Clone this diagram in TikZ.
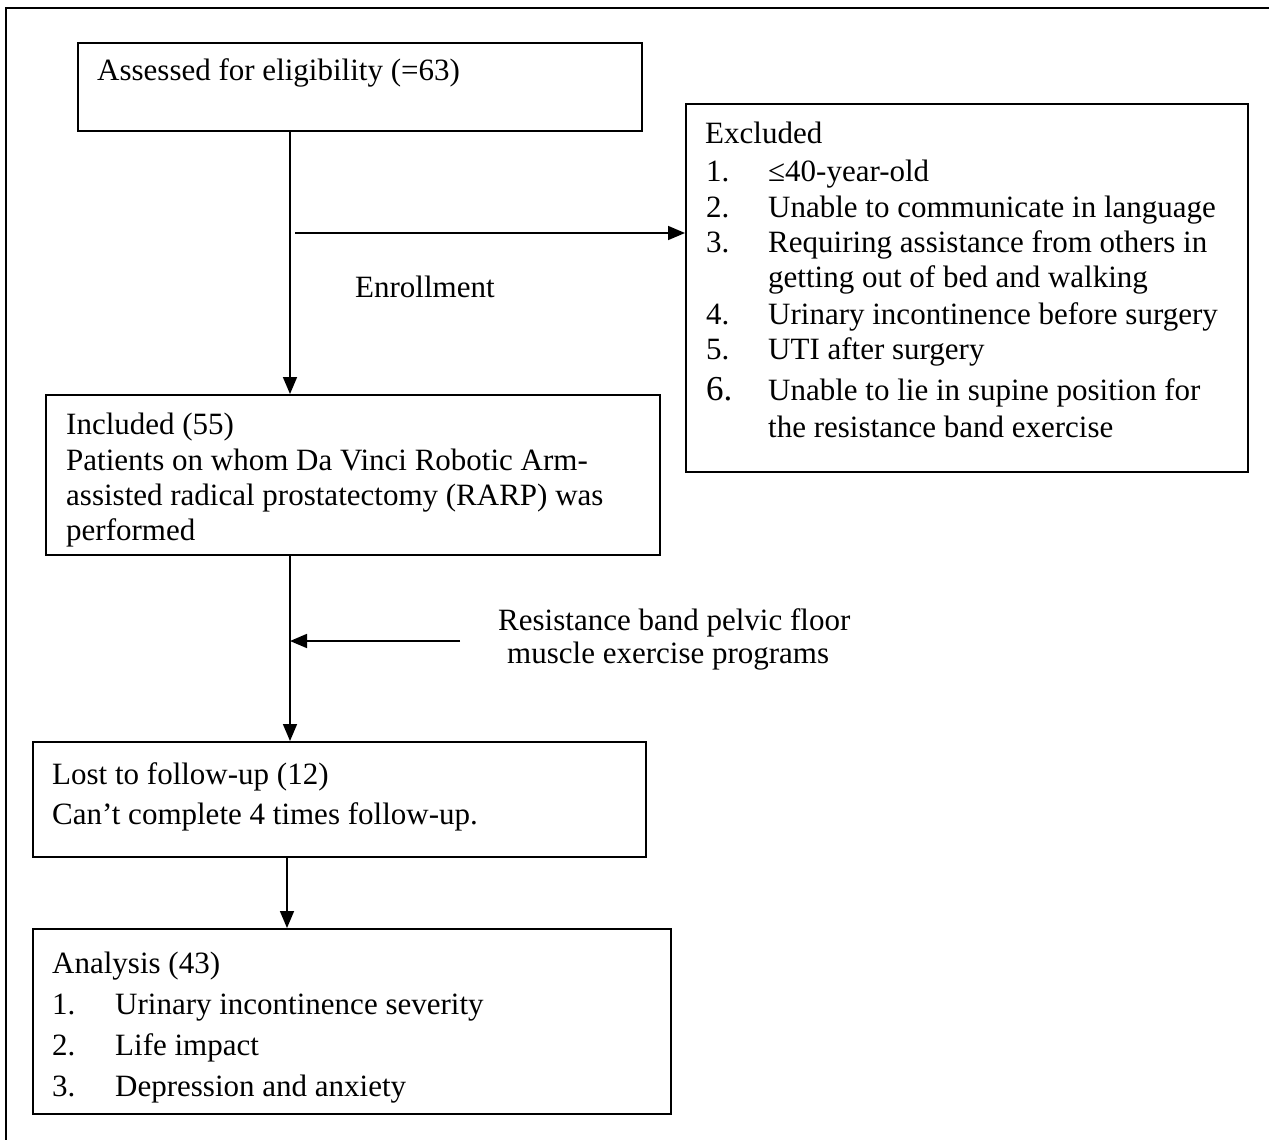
\documentclass[tikz,border=0pt]{standalone}
\usepackage{fontspec}
\setmainfont{Liberation Serif}
\usetikzlibrary{arrows.meta}
\begin{document}
\begin{tikzpicture}[x=1pt,y=-1pt,
  box/.style={draw,line width=1.7pt,inner sep=0pt,anchor=north west},
  txt/.style={anchor=base west,inner sep=0pt,font=\fontsize{31}{36}\selectfont},
  arr/.style={line width=1.7pt,-{Triangle[length=17pt,width=14pt]}},
]
\useasboundingbox (0,0) rectangle (1269,1140);
% outer frame
\draw[line width=2pt] (1269,8) -- (6,8) -- (6,1140);

% boxes
\node[box,minimum width=564pt,minimum height=88pt] (assess) at (77,42) {};
\node[box,minimum width=562pt,minimum height=368pt] (excl) at (685,103) {};
\node[box,minimum width=614pt,minimum height=160pt] (incl) at (45,394) {};
\node[box,minimum width=613pt,minimum height=115pt] (lost) at (32,741) {};
\node[box,minimum width=638pt,minimum height=185pt] (anal) at (32,928) {};

% texts
\node[txt] (ta) at (97,81) {Assessed for eligibility (=63)};

\node[txt] (te0) at (705,143) {Excluded};
\node[txt] (te1n) at (706,181) {1.};
\node[txt] (te1) at (768,181) {≤40-year-old};
\node[txt] (te2n) at (706,217) {2.};
\node[txt] (te2) at (768,217) {Unable to communicate in language};
\node[txt] (te3n) at (706,252) {3.};
\node[txt] (te3) at (768,252) {Requiring assistance from others in};
\node[txt] (te3b) at (768,287) {getting out of bed and walking};
\node[txt] (te4n) at (706,324) {4.};
\node[txt] (te4) at (768,324) {Urinary incontinence before surgery};
\node[txt] (te5n) at (706,359) {5.};
\node[txt] (te5) at (768,359) {UTI after surgery};
\node[txt,font=\fontsize{35}{40}\selectfont] (te6n) at (706,400) {6.};
\node[txt] (te6) at (768,400) {Unable to lie in supine position for};
\node[txt] (te6b) at (768,437) {the resistance band exercise};

\node[txt] (tenr) at (355,297) {Enrollment};

\node[txt] (ti0) at (66,434) {Included (55)};
\node[txt] (ti1) at (66,470) {Patients on whom Da Vinci Robotic Arm-};
\node[txt] (ti2) at (66,505) {assisted radical prostatectomy (RARP) was};
\node[txt] (ti3) at (66,540) {performed};

\node[txt] (tr1) at (498,630) {Resistance band pelvic floor};
\node[txt] (tr2) at (507,663) {muscle exercise programs};

\node[txt] (tl0) at (52,784) {Lost to follow-up (12)};
\node[txt] (tl1) at (52,824) {Can’t complete 4 times follow-up.};

\node[txt] (tan0) at (52,973) {Analysis (43)};
\node[txt] (tan1n) at (52,1014) {1.};
\node[txt] (tan1) at (115,1014) {Urinary incontinence severity};
\node[txt] (tan2n) at (52,1055) {2.};
\node[txt] (tan2) at (115,1055) {Life impact};
\node[txt] (tan3n) at (52,1096) {3.};
\node[txt] (tan3) at (115,1096) {Depression and anxiety};

% connectors
\coordinate (c1) at (290,130);
\draw[arr] (c1) -- (c1 |- incl.north);
\coordinate (c2) at (295,233);
\draw[arr] (c2) -- (c2 -| excl.west);
\coordinate (c3) at (290,554);
\draw[arr] (c3) -- (c3 |- lost.north);
\coordinate (c4) at (460,641);
\draw[arr] (c4) -- (c4 -| c3);
\coordinate (c5) at (287,856);
\draw[arr] (c5) -- (c5 |- anal.north);
\end{tikzpicture}
\end{document}
